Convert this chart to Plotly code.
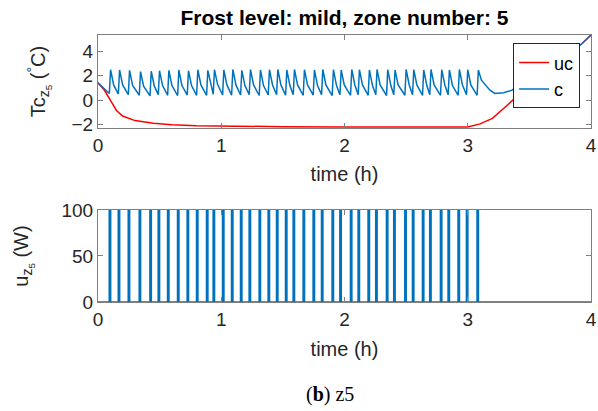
import plotly.graph_objects as go

# heater switch-on times (h), zone 5
pulse_on = [0.092, 0.165, 0.246, 0.335, 0.422, 0.489, 0.565, 0.646, 0.724, 0.800,
            0.881, 0.935, 1.011, 1.084, 1.157, 1.227, 1.308, 1.381, 1.449, 1.522,
            1.584, 1.665, 1.746, 1.814, 1.900, 1.963, 2.049, 2.111, 2.192, 2.254,
            2.341, 2.400, 2.490, 2.552, 2.633, 2.692, 2.779, 2.841, 2.922, 2.990,
            3.076]
pulse_len = 0.010
u_on = 100

# controlled temperature: just before each pulse, at its end, and shortly after
c_trough = [0.55, 0.50, 0.45, 0.40, 0.35, 0.45, 0.40, 0.38, 0.42, 0.40,
            0.40, 0.48, 0.42, 0.40, 0.42, 0.45, 0.38, 0.42, 0.45, 0.40,
            0.45, 0.40, 0.42, 0.45, 0.38, 0.45, 0.40, 0.45, 0.40, 0.45,
            0.38, 0.45, 0.40, 0.45, 0.40, 0.45, 0.40, 0.45, 0.40, 0.45,
            0.40]
c_peak = [2.50, 2.48, 2.45, 2.35, 2.38, 2.42, 2.45, 2.48, 2.42, 2.50,
          2.45, 2.50, 2.48, 2.52, 2.45, 2.52, 2.48, 2.50, 2.52, 2.48,
          2.52, 2.50, 2.48, 2.52, 2.50, 2.48, 2.52, 2.50, 2.48, 2.52,
          2.50, 2.48, 2.52, 2.50, 2.48, 2.52, 2.50, 2.48, 2.52, 2.50,
          2.47]
knee_dt = 0.025
c_knee = [1.25, 1.25, 1.2, 1.15, 1.15, 1.2, 1.2, 1.2, 1.2, 1.25,
          1.2, 1.3, 1.25, 1.25, 1.2, 1.25, 1.2, 1.25, 1.25, 1.2,
          1.25, 1.25, 1.2, 1.25, 1.2, 1.25, 1.25, 1.25, 1.2, 1.25,
          1.2, 1.25, 1.25, 1.25, 1.2, 1.25, 1.25, 1.2, 1.25, 1.25,
          1.64]
c_start = (0.0, 1.42)
c_tail_t = [3.18, 3.22, 3.29, 3.36, 3.38, 3.45, 3.60, 3.80, 3.93, 4.00]
c_tail_v = [0.82, 0.55, 0.60, 0.82, 0.99, 1.35, 2.20, 3.70, 4.67, 5.35]

# uncontrolled temperature
uc_t = [0, 0.05, 0.10, 0.15, 0.20, 0.30, 0.45, 0.60, 0.80, 1.0, 1.5, 2.0, 2.5,
        3.0, 3.1, 3.2, 3.3, 3.41, 3.6, 3.8, 3.93, 4.0]
uc_v = [1.42, 0.85, 0.0, -0.85, -1.30, -1.68, -1.90, -2.02, -2.10, -2.14, -2.18,
        -2.20, -2.20, -2.20, -1.95, -1.50, -0.60, 0.41, 2.0, 3.65, 4.67, 5.35]

# build traces
c_x = [c_start[0]]
c_y = [c_start[1]]
for t, lo, hi, kn in zip(pulse_on, c_trough, c_peak, c_knee):
    c_x += [t, t + pulse_len, t + pulse_len + knee_dt]
    c_y += [lo, hi, kn]
c_x += c_tail_t
c_y += c_tail_v

u_x = [0]
u_y = [0]
for t in pulse_on:
    u_x += [t, t, t + pulse_len, t + pulse_len]
    u_y += [0, u_on, u_on, 0]
u_x.append(4)
u_y.append(0)

RED = "#FF0000"
BLUE = "#0072BD"
AX = "#808080"
TXT = "#262626"
FONT = "Liberation Sans, Arial, sans-serif"

fig = go.Figure()
fig.add_trace(go.Scatter(x=uc_t, y=uc_v, mode="lines", name="uc",
                         line=dict(color=RED, width=1.5), xaxis="x", yaxis="y"))
fig.add_trace(go.Scatter(x=c_x, y=c_y, mode="lines", name="c",
                         line=dict(color=BLUE, width=1.5), xaxis="x", yaxis="y"))
fig.add_trace(go.Scatter(x=u_x, y=u_y, mode="lines", showlegend=False,
                         line=dict(color=BLUE, width=1.7), xaxis="x2", yaxis="y2"))

axis_common = dict(showline=True, mirror="ticks", linecolor=AX, linewidth=1,
                   ticks="inside", ticklen=5, tickcolor=AX, showgrid=False,
                   zeroline=False, automargin=False,
                   tickfont=dict(size=19, color=TXT, family=FONT))

fig.update_layout(
    width=598, height=411,
    margin=dict(l=98, r=7, t=35, b=109),
    paper_bgcolor="white", plot_bgcolor="white",
    font=dict(family=FONT, color=TXT),
    title=dict(text="<b>Frost level: mild, zone number: 5</b>",
               x=0.5, xref="paper", y=1 - 18 / 411, yref="container",
               yanchor="middle", font=dict(size=21, color="black", family=FONT)),
    xaxis=dict(axis_common, domain=[0, 1], range=[0, 4], tickvals=[0, 1, 2, 3, 4],
               anchor="y", title=dict(text="time (h)", font=dict(size=20, color=TXT),
                                      standoff=12)),
    yaxis=dict(axis_common, domain=[0.652, 1], range=[-2.28, 5.35],
               tickvals=[-2, 0, 2, 4], anchor="x",
               title=dict(text="Tc<sub>z<sub>5</sub></sub> (<sup>°</sup>C)",
                          font=dict(size=20, color=TXT), standoff=20)),
    xaxis2=dict(axis_common, domain=[0, 1], range=[0, 4], tickvals=[0, 1, 2, 3, 4],
                anchor="y2", title=dict(text="time (h)", font=dict(size=20, color=TXT),
                                        standoff=13)),
    yaxis2=dict(axis_common, domain=[0, 0.3446], range=[0, 100],
                tickvals=[0, 50, 100], anchor="x2",
                title=dict(text="u<sub>z<sub>5</sub></sub> (W)",
                           font=dict(size=20, color=TXT), standoff=27)),
    legend=dict(x=0.842, y=0.969, xanchor="left", yanchor="top",
                bgcolor="white", bordercolor=TXT, borderwidth=1,
                font=dict(size=18, color="black", family=FONT),
                tracegroupgap=0),
    showlegend=True,
)

fig.add_annotation(text="(<b>b</b>) z5", x=0.4706, y=-0.348, xref="paper", yref="paper",
                   xanchor="center", yanchor="middle", showarrow=False,
                   font=dict(size=20, color="black", family="Liberation Serif, serif"))

# page body has an 8px default margin; drop it so the figure sits at 0,0
fig.write_html("out.html", config={"displayModeBar": False},
               post_script="document.body.style.margin='0px';")
